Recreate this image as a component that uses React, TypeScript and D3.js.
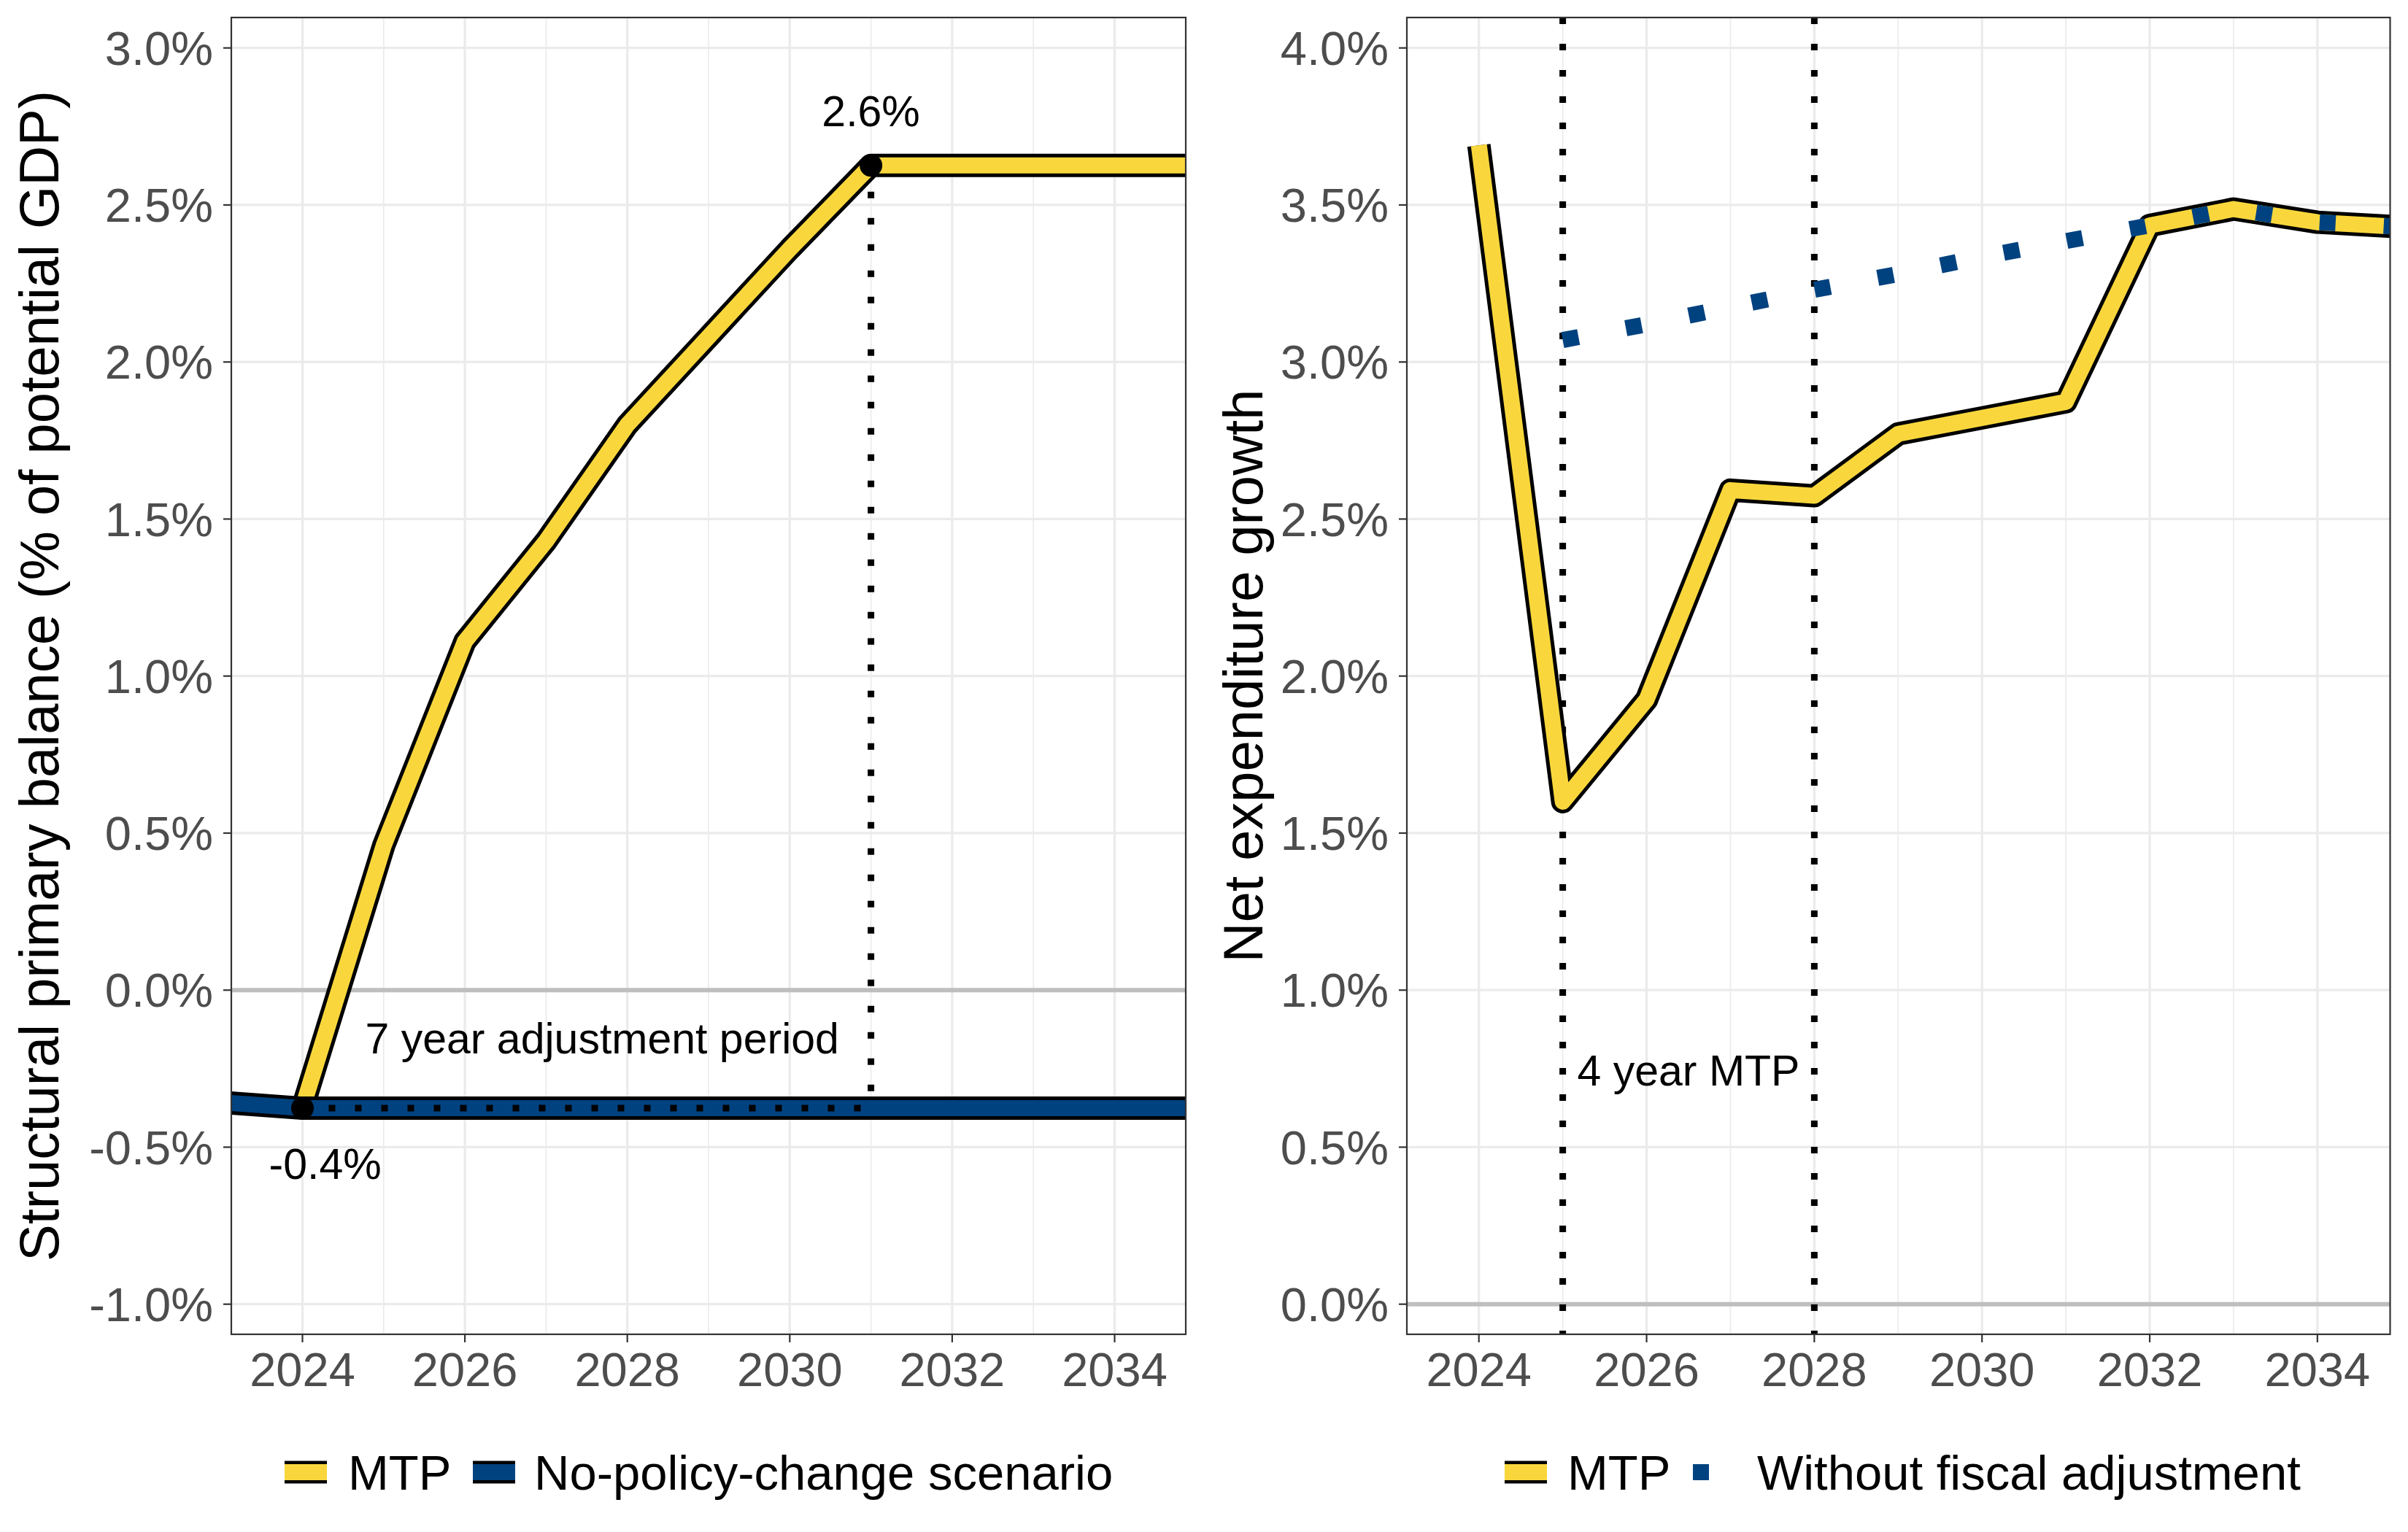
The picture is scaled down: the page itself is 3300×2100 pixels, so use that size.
import React from 'react';
import * as d3 from 'd3';

// ---------- data ----------
const balanceYearsMTP = [2024, 2025, 2026, 2027, 2028, 2029, 2030, 2031, 2032, 2033, 2034, 2035];
const balanceMTP = [-0.376, 0.46, 1.11, 1.43, 1.8, 2.08, 2.36, 2.626, 2.626, 2.626, 2.626, 2.626];
const balanceYearsNPC = [2023, 2024, 2025, 2026, 2027, 2028, 2029, 2030, 2031, 2032, 2033, 2034, 2035];
const balanceNPC = [-0.357, -0.376, -0.376, -0.376, -0.376, -0.376, -0.376, -0.376, -0.376, -0.376, -0.376, -0.376, -0.376];

const growthYearsMTP = [2024, 2025, 2026, 2027, 2028, 2029, 2030, 2031, 2032, 2033, 2034, 2035];
const growthMTP = [3.69, 1.6, 1.925, 2.592, 2.574, 2.771, 2.822, 2.873, 3.435, 3.487, 3.445, 3.43];
const growthYearsNoAdj = [2025, 2026, 2027, 2028, 2029, 2030, 2031, 2032, 2033, 2034, 2035];
const growthNoAdj = [3.07, 3.12, 3.175, 3.23, 3.28, 3.335, 3.385, 3.435, 3.487, 3.445, 3.43];

const xTicks = [2024, 2026, 2028, 2030, 2032, 2034];
const xMinor = [2025, 2027, 2029, 2031, 2033];
const leftYTicks = [-1.0, -0.5, 0.0, 0.5, 1.0, 1.5, 2.0, 2.5, 3.0];
const rightYTicks = [0.0, 0.5, 1.0, 1.5, 2.0, 2.5, 3.0, 3.5, 4.0];

const adjStart = 2024;
const adjEnd = 2031;
const mtpVLines = [2025, 2028];

const leftLabels = [
  { text: '2.6%', x: 2031, y: 2.8 },
  { text: '-0.4%', x: 2024.28, y: -0.552 },
  { text: '7 year adjustment period', x: 2027.69, y: -0.153 },
];
const rightLabels = [{ text: '4 year MTP', x: 2026.5, y: 0.746 }];

const leftLegend = ['MTP', 'No-policy-change scenario'];
const rightLegend = ['MTP', 'Without fiscal adjustment'];

// ---------- style ----------
const YELLOW = '#F9D73C';
const BLUE = '#00427F';
const FONT = '"Liberation Sans", Arial, Helvetica, sans-serif';
const TICK_SIZE = 65;
const LEG_SIZE = 67;
const LAB_SIZE = 59;
const TITLE_SIZE = 76;
const GRID = '#EBEBEB';

const W = 3300;
const H = 2100;
const TOP = 24;
const BOTTOM = 1829;

const fmt = (v: number) => v.toFixed(1) + '%';

type PanelProps = {
  id: string;
  x0: number;
  x1: number;
  xDomain: [number, number];
  yDomain: [number, number];
  yTicks: number[];
  title: string;
  titleX: number;
  children: (x: d3.ScaleLinear<number, number>, y: d3.ScaleLinear<number, number>) => React.ReactNode;
};

function Panel({ id, x0, x1, xDomain, yDomain, yTicks, title, titleX, children }: PanelProps) {
  const x = d3.scaleLinear().domain(xDomain).range([x0, x1]);
  const y = d3.scaleLinear().domain(yDomain).range([BOTTOM, TOP]);
  return (
    <g>
      <defs>
        <clipPath id={id}>
          <rect x={x0} y={TOP} width={x1 - x0} height={BOTTOM - TOP} />
        </clipPath>
      </defs>
      <rect x={x0} y={TOP} width={x1 - x0} height={BOTTOM - TOP} fill="#fff" />
      <g>
        {xMinor.map((t) => (
          <line key={'xm' + t} x1={x(t)} x2={x(t)} y1={TOP} y2={BOTTOM} stroke={GRID} strokeWidth={1.7} />
        ))}
        {yTicks.map((t) => (
          <line key={'yg' + t} x1={x0} x2={x1} y1={y(t)} y2={y(t)} stroke={GRID} strokeWidth={3.3} />
        ))}
        {xTicks.map((t) => (
          <line key={'xg' + t} x1={x(t)} x2={x(t)} y1={TOP} y2={BOTTOM} stroke={GRID} strokeWidth={3.3} />
        ))}
        <line x1={x0} x2={x1} y1={y(0)} y2={y(0)} stroke="#BEBEBE" strokeWidth={6} />
      </g>
      <g clipPath={`url(#${id})`}>{children(x, y)}</g>
      <rect x={x0} y={TOP} width={x1 - x0} height={BOTTOM - TOP} fill="none" stroke="#333333" strokeWidth={2.2} />
      {yTicks.map((t) => (
        <g key={'yt' + t}>
          <line x1={x0 - 11} x2={x0} y1={y(t)} y2={y(t)} stroke="#333333" strokeWidth={2.2} />
          <text
            x={x0 - 25}
            y={y(t) + 0.358 * TICK_SIZE}
            textAnchor="end"
            fontSize={TICK_SIZE}
            fill="#4D4D4D"
            fontFamily={FONT}
          >
            {fmt(t)}
          </text>
        </g>
      ))}
      {xTicks.map((t) => (
        <g key={'xt' + t}>
          <line x1={x(t)} x2={x(t)} y1={BOTTOM} y2={BOTTOM + 11} stroke="#333333" strokeWidth={2.2} />
          <text x={x(t)} y={1900} textAnchor="middle" fontSize={TICK_SIZE} fill="#4D4D4D" fontFamily={FONT}>
            {t}
          </text>
        </g>
      ))}
      <text
        transform={`translate(${titleX},${(TOP + BOTTOM) / 2}) rotate(-90)`}
        textAnchor="middle"
        fontSize={TITLE_SIZE}
        fill="#000"
        fontFamily={FONT}
      >
        {title}
      </text>
    </g>
  );
}

function LegendKey({ x, cy, color, outline, dotted }: { x: number; cy: number; color: string; outline: boolean; dotted: boolean }) {
  return (
    <g>
      {outline && <line x1={x} x2={x + 58} y1={cy} y2={cy} stroke="#000" strokeWidth={31} />}
      <line
        x1={x}
        x2={x + 58}
        y1={cy}
        y2={cy}
        stroke={color}
        strokeWidth={22}
        strokeDasharray={dotted ? '22 66' : undefined}
      />
    </g>
  );
}

export default function App() {
  const lineGen = (x: d3.ScaleLinear<number, number>, y: d3.ScaleLinear<number, number>) =>
    d3
      .line<[number, number]>()
      .x((d) => x(d[0]))
      .y((d) => y(d[1]));

  const zip = (a: number[], b: number[]) => a.map((v, i) => [v, b[i]] as [number, number]);

  const legendCY = 2018;
  const legendText = (tx: number, label: string) => (
    <text x={tx} y={legendCY + 0.358 * LEG_SIZE} fontSize={LEG_SIZE} fill="#000" fontFamily={FONT}>
      {label}
    </text>
  );

  return (
    <svg
      width={W}
      height={H}
      viewBox={`0 0 ${W} ${H}`}
      style={{ position: 'absolute', left: 0, top: 0, background: '#fff' }}
    >
      <rect x={0} y={0} width={W} height={H} fill="#fff" />
      <Panel
        id="clipL"
        x0={317}
        x1={1625}
        xDomain={[2023.124, 2034.876]}
        yDomain={[-1.0959, 3.0969]}
        yTicks={leftYTicks}
        title="Structural primary balance (% of potential GDP)"
        titleX={80}
      >
        {(x, y) => {
          const lg = lineGen(x, y);
          const mtp = lg(zip(balanceYearsMTP, balanceMTP)) || '';
          const npc = lg(zip(balanceYearsNPC, balanceNPC)) || '';
          const startVal = balanceMTP[balanceYearsMTP.indexOf(adjStart)];
          const endVal = balanceMTP[balanceYearsMTP.indexOf(adjEnd)];
          const npcVal = balanceNPC[balanceYearsNPC.indexOf(adjStart)];
          const dottedH =
            lg([
              [adjStart, npcVal],
              [adjEnd, npcVal],
            ]) || '';
          return (
            <g>
              <path d={mtp} fill="none" stroke="#000" strokeWidth={32} strokeLinejoin="round" />
              <path d={mtp} fill="none" stroke={YELLOW} strokeWidth={22} strokeLinejoin="round" />
              <path d={npc} fill="none" stroke="#000" strokeWidth={32} strokeLinejoin="round" />
              <path d={npc} fill="none" stroke={BLUE} strokeWidth={22} strokeLinejoin="round" />
              <path d={dottedH} fill="none" stroke="#000" strokeWidth={9} strokeDasharray="9 27" />
              <line
                x1={x(adjEnd)}
                x2={x(adjEnd)}
                y1={y(endVal)}
                y2={y(npcVal)}
                stroke="#000"
                strokeWidth={9}
                strokeDasharray="9 27"
              />
              <circle cx={x(adjStart)} cy={y(startVal)} r={15.5} fill="#000" />
              <circle cx={x(adjEnd)} cy={y(endVal)} r={15.5} fill="#000" />
              {leftLabels.map((l) => (
                <text
                  key={l.text}
                  x={x(l.x)}
                  y={y(l.y) + 0.358 * LAB_SIZE}
                  textAnchor="middle"
                  fontSize={LAB_SIZE}
                  fill="#000"
                  fontFamily={FONT}
                >
                  {l.text}
                </text>
              ))}
            </g>
          );
        }}
      </Panel>
      <Panel
        id="clipR"
        x0={1928}
        x1={3275.5}
        xDomain={[2023.141, 2034.867]}
        yDomain={[-0.0959, 4.0969]}
        yTicks={rightYTicks}
        title="Net expenditure growth"
        titleX={1730}
      >
        {(x, y) => {
          const lg = lineGen(x, y);
          const mtp = lg(zip(growthYearsMTP, growthMTP)) || '';
          const noadj = lg(zip(growthYearsNoAdj, growthNoAdj)) || '';
          return (
            <g>
              {mtpVLines.map((v) => (
                <line
                  key={v}
                  x1={x(v)}
                  x2={x(v)}
                  y1={TOP}
                  y2={BOTTOM}
                  stroke="#000"
                  strokeWidth={9}
                  strokeDasharray="9 27"
                />
              ))}
              <path d={mtp} fill="none" stroke="#000" strokeWidth={32} strokeLinejoin="round" />
              <path d={mtp} fill="none" stroke={YELLOW} strokeWidth={22} strokeLinejoin="round" />
              <path d={noadj} fill="none" stroke={BLUE} strokeWidth={22} strokeDasharray="22 66" />
              {rightLabels.map((l) => (
                <text
                  key={l.text}
                  x={x(l.x)}
                  y={y(l.y) + 0.358 * LAB_SIZE}
                  textAnchor="middle"
                  fontSize={LAB_SIZE}
                  fill="#000"
                  fontFamily={FONT}
                >
                  {l.text}
                </text>
              ))}
            </g>
          );
        }}
      </Panel>

      {/* legends */}
      <LegendKey x={390} cy={legendCY} color={YELLOW} outline={true} dotted={false} />
      {legendText(477, leftLegend[0])}
      <LegendKey x={648} cy={legendCY} color={BLUE} outline={true} dotted={false} />
      {legendText(732, leftLegend[1])}

      <LegendKey x={2062} cy={legendCY} color={YELLOW} outline={true} dotted={false} />
      {legendText(2148, rightLegend[0])}
      <LegendKey x={2320} cy={legendCY} color={BLUE} outline={false} dotted={true} />
      {legendText(2408, rightLegend[1])}
    </svg>
  );
}
